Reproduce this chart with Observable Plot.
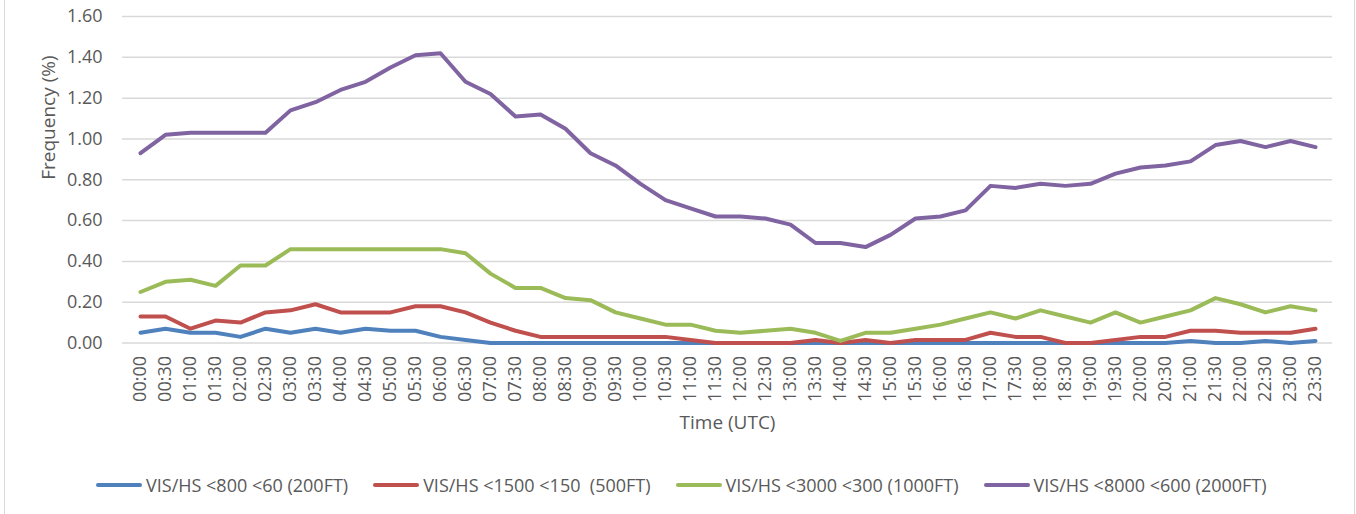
<!DOCTYPE html>
<html>
<head>
<meta charset="utf-8">
<script src="https://cdn.jsdelivr.net/npm/d3@7"></script>
<script src="https://cdn.jsdelivr.net/npm/@observablehq/plot@0.6"></script>
<style>
  html, body { margin: 0; padding: 0; background: #fff; }
  body { width: 1356px; height: 514px; position: relative; overflow: hidden; font-family: "Open Sans", sans-serif; color: #595959; }
  .edge { position: absolute; top: 0; bottom: 0; width: 1px; background: #d9d9d9; }
  #legend { position: absolute; left: 96px; top: 462px; height: 46px; display: flex; align-items: center; font-size: 18px; color: #595959; white-space: pre; }
  .item { display: flex; align-items: center; margin-right: 25px; }
  .sw { width: 46px; height: 4px; border-radius: 2px; margin-right: 4px; }
</style>
</head>
<body>
<div class="edge" style="left:4px"></div>
<div class="edge" style="left:1354px"></div>
<div id="chart"></div>
<div id="legend"></div>
<script>
const times = ["00:00","00:30","01:00","01:30","02:00","02:30","03:00","03:30","04:00","04:30","05:00","05:30",
  "06:00","06:30","07:00","07:30","08:00","08:30","09:00","09:30","10:00","10:30","11:00","11:30",
  "12:00","12:30","13:00","13:30","14:00","14:30","15:00","15:30","16:00","16:30","17:00","17:30",
  "18:00","18:30","19:00","19:30","20:00","20:30","21:00","21:30","22:00","22:30","23:00","23:30"];

const seriesNames = ["VIS/HS <800 <60 (200FT)", "VIS/HS <1500 <150  (500FT)", "VIS/HS <3000 <300 (1000FT)", "VIS/HS <8000 <600 (2000FT)"];
const seriesColors = ["#4f81bd", "#c0504d", "#9bbb59", "#8064a2"];

const vis800 = [0.05,0.07,0.05,0.05,0.03,0.07,0.05,0.07,0.05,0.07,0.06,0.06,
  0.03,0.015,0,0,0,0,0,0,0,0,0,0,
  0,0,0,0,0,0,0,0,0,0,0,0,
  0,0,0,0,0,0,0.01,0,0,0.01,0,0.01];
const vis1500 = [0.13,0.13,0.07,0.11,0.10,0.15,0.16,0.19,0.15,0.15,0.15,0.18,
  0.18,0.15,0.10,0.06,0.03,0.03,0.03,0.03,0.03,0.03,0.015,0,
  0,0,0,0.015,0,0.015,0,0.015,0.015,0.015,0.05,0.03,
  0.03,0,0,0.015,0.03,0.03,0.06,0.06,0.05,0.05,0.05,0.07];
const vis3000 = [0.25,0.30,0.31,0.28,0.38,0.38,0.46,0.46,0.46,0.46,0.46,0.46,
  0.46,0.44,0.34,0.27,0.27,0.22,0.21,0.15,0.12,0.09,0.09,0.06,
  0.05,0.06,0.07,0.05,0.01,0.05,0.05,0.07,0.09,0.12,0.15,0.12,
  0.16,0.13,0.10,0.15,0.10,0.13,0.16,0.22,0.19,0.15,0.18,0.16];
const vis8000 = [0.93,1.02,1.03,1.03,1.03,1.03,1.14,1.18,1.24,1.28,1.35,1.41,
  1.42,1.28,1.22,1.11,1.12,1.05,0.93,0.87,0.78,0.70,0.66,0.62,
  0.62,0.61,0.58,0.49,0.49,0.47,0.53,0.61,0.62,0.65,0.77,0.76,
  0.78,0.77,0.78,0.83,0.86,0.87,0.89,0.97,0.99,0.96,0.99,0.96];

const yTicks = [0, 0.2, 0.4, 0.6, 0.8, 1.0, 1.2, 1.4, 1.6];
const yTitle = "Frequency (%)";
const xTitle = "Time (UTC)";

const allSeries = [vis800, vis1500, vis3000, vis8000];
const data = [];
allSeries.forEach((vals, si) => vals.forEach((v, i) => data.push({time: times[i], value: v, series: seriesNames[si]})));

const chart = Plot.plot({
  width: 1356,
  height: 460,
  marginLeft: 122,
  marginRight: 24,
  marginTop: 16,
  marginBottom: 117.5,
  style: {fontFamily: "Open Sans", fontSize: "18px", color: "#595959", background: "transparent"},
  x: {type: "point", domain: times, padding: 0.5},
  y: {domain: [0, 1.6]},
  color: {domain: seriesNames, range: seriesColors},
  marks: [
    Plot.ruleY(yTicks, {stroke: "#d9d9d9", strokeWidth: 1.5}),
    Plot.axisY({ticks: yTicks, tickFormat: d3.format(".2f"), tickSize: 0, tickPadding: 20, label: null, fontSize: 18}),
    Plot.axisX({tickRotate: -90, tickSize: 0, tickPadding: 13, label: null, fontSize: 18}),
    Plot.text([yTitle], {frameAnchor: "left", rotate: -90, dx: -74, fontSize: 19, fill: "#595959"}),
    Plot.text([xTitle], {frameAnchor: "bottom", dy: 86, fontSize: 19, fill: "#595959"}),
    Plot.lineY(data, {x: "time", y: "value", stroke: "series", strokeWidth: 4, strokeLinejoin: "round", strokeLinecap: "round"})
  ]
});
document.getElementById("chart").appendChild(chart);

const legend = document.getElementById("legend");
seriesNames.forEach((name, i) => {
  const item = document.createElement("div");
  item.className = "item";
  const sw = document.createElement("div");
  sw.className = "sw";
  sw.style.background = seriesColors[i];
  const label = document.createElement("span");
  label.textContent = name;
  item.appendChild(sw);
  item.appendChild(label);
  legend.appendChild(item);
});
</script>
</body>
</html>
